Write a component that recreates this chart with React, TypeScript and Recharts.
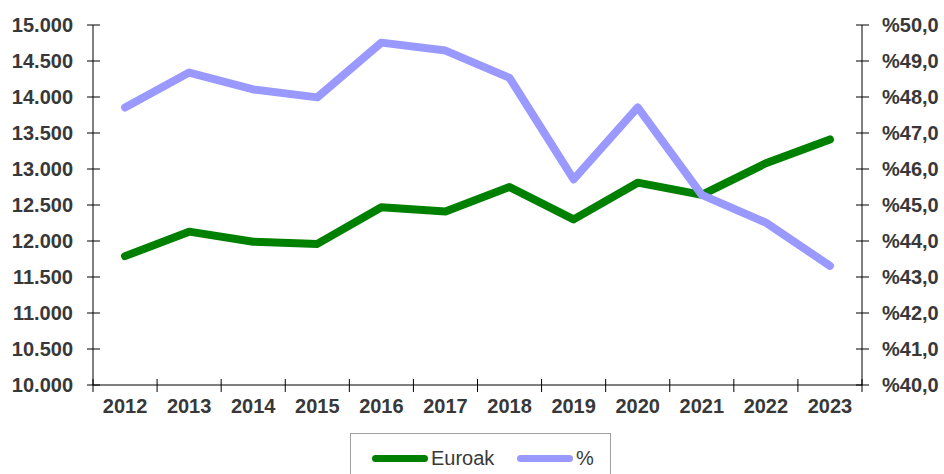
import { LineChart, Line, XAxis, YAxis } from 'recharts';

const years = ['2012', '2013', '2014', '2015', '2016', '2017', '2018', '2019', '2020', '2021', '2022', '2023'];
const euroak = [11790, 12130, 11990, 11960, 12470, 12410, 12750, 12300, 12810, 12640, 13080, 13410];
const percent = [47.71, 48.68, 48.21, 47.99, 49.51, 49.29, 48.53, 45.71, 47.71, 45.28, 44.51, 43.31];
const leftTicks = [10000, 10500, 11000, 11500, 12000, 12500, 13000, 13500, 14000, 14500, 15000];
const rightTicks = [40, 41, 42, 43, 44, 45, 46, 47, 48, 49, 50];

const W = 944;
const H = 474;
const LEFT_W = 93;
const RIGHT_W = 82;
const TOP = 25;
const BOTTOM = 385;
const X_AXIS_H = 30;
const PLOT_W = W - LEFT_W - RIGHT_W;
const HALF_BAND = PLOT_W / years.length / 2;
const MARGIN = 20;
const TEXT = '#383838';
const FONT = '"Liberation Sans", Arial, sans-serif';

const data = years.map((year, i) => ({ year, euroak: euroak[i], percent: percent[i] }));

const fmtEuro = (v: number) => `${Math.floor(v / 1000)}.${String(v % 1000).padStart(3, '0')}`;
const fmtPct = (v: number) => `%${v.toFixed(1).replace('.', ',')}`;

const LeftTick = ({ x, y, payload }: any) => (
  <g>
    <line x1={x + MARGIN - 6} x2={x + MARGIN + 7} y1={y} y2={y} stroke="#000" />
    <text x={x} y={y} dy="0.355em" textAnchor="end" fill={TEXT} fontSize={20} fontWeight="bold" fontFamily={FONT}>
      {fmtEuro(payload.value)}
    </text>
  </g>
);

const RightTick = ({ x, y, payload }: any) => (
  <g>
    <line x1={x - MARGIN - 6} x2={x - MARGIN + 7} y1={y} y2={y} stroke="#000" />
    <text x={x} y={y} dy="0.355em" textAnchor="start" fill={TEXT} fontSize={20} fontWeight="bold" fontFamily={FONT}>
      {fmtPct(payload.value)}
    </text>
  </g>
);

const BottomTick = ({ x, y, payload, index }: any) => {
  const ay = y - 14;
  return (
    <g>
      <line x1={x - HALF_BAND} x2={x - HALF_BAND} y1={ay - 6} y2={ay + 7} stroke="#000" />
      {index === years.length - 1 && (
        <line x1={x + HALF_BAND} x2={x + HALF_BAND} y1={ay - 6} y2={ay + 7} stroke="#000" />
      )}
      <text x={x} y={y} dy="0.71em" textAnchor="middle" fill={TEXT} fontSize={20} fontWeight="bold" fontFamily={FONT}>
        {payload.value}
      </text>
    </g>
  );
};

const LegendItem = ({ left, color, label }: { left: number; color: string; label: string }) => (
  <div style={{ position: 'absolute', left, top: 12, height: 24, display: 'flex', alignItems: 'center' }}>
    <div style={{ width: 56, height: 7, borderRadius: 4, background: color, marginRight: 3 }} />
    <span style={{ fontSize: 20, color: TEXT, fontFamily: FONT }}>{label}</span>
  </div>
);

export default function App() {
  return (
    <div style={{ position: 'absolute', left: 0, top: 0, width: W, height: H, background: '#fff', overflow: 'hidden' }}>
      <LineChart
        width={W}
        height={H}
        data={data}
        margin={{ top: TOP, right: 0, left: 0, bottom: H - BOTTOM - X_AXIS_H }}
      >
        <XAxis
          dataKey="year"
          height={X_AXIS_H}
          padding={{ left: HALF_BAND, right: HALF_BAND }}
          axisLine={{ stroke: '#000' }}
          tickLine={false}
          tickSize={0}
          tickMargin={14}
          tick={<BottomTick />}
          interval={0}
        />
        <YAxis
          yAxisId="left"
          width={LEFT_W}
          domain={[10000, 15000]}
          ticks={leftTicks}
          axisLine={{ stroke: '#000' }}
          tickLine={false}
          tickSize={0}
          tickMargin={MARGIN}
          tick={<LeftTick />}
          interval={0}
        />
        <YAxis
          yAxisId="right"
          orientation="right"
          width={RIGHT_W}
          domain={[40, 50]}
          ticks={rightTicks}
          axisLine={{ stroke: '#000' }}
          tickLine={false}
          tickSize={0}
          tickMargin={MARGIN}
          tick={<RightTick />}
          interval={0}
        />
        <Line
          yAxisId="left"
          dataKey="euroak"
          name="Euroak"
          stroke="#008000"
          strokeWidth={8}
          strokeLinecap="round"
          strokeLinejoin="round"
          dot={false}
          isAnimationActive={false}
        />
        <Line
          yAxisId="right"
          dataKey="percent"
          name="%"
          stroke="#9999ff"
          strokeWidth={8}
          strokeLinecap="round"
          strokeLinejoin="round"
          dot={false}
          isAnimationActive={false}
        />
      </LineChart>
      <div
        style={{
          position: 'absolute',
          left: 350,
          top: 433,
          width: 259,
          height: 60,
          border: '1px solid #a0a0a0',
          background: '#fff',
        }}
      >
        <LegendItem left={21} color="#008000" label="Euroak" />
        <LegendItem left={166} color="#9999ff" label="%" />
      </div>
    </div>
  );
}
